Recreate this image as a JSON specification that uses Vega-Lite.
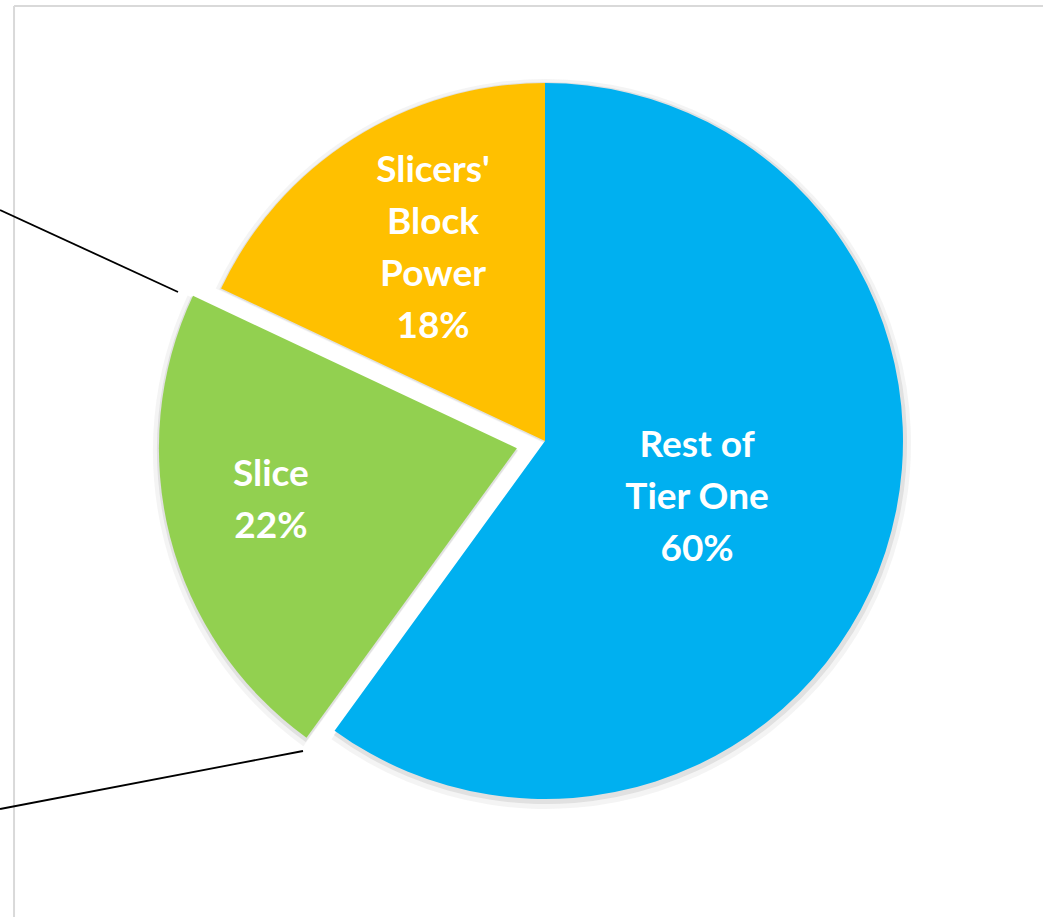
{
  "$schema": "https://vega.github.io/schema/vega-lite/v6.json",
  "autosize": {"type": "none"},
  "padding": {"left": 47, "top": 0, "right": 0, "bottom": 35},
  "width": 996,
  "height": 882,
  "background": "white",
  "config": {"view": {"stroke": null}},
  "datasets": {
    "slices": [
      {"category": "Rest of Tier One", "share": 60, "label": "Rest of\nTier One\n60%", "k": 1},
      {"category": "Slice", "share": 22, "label": "Slice\n22%", "k": 2},
      {"category": "Slicers' Block Power", "share": 18, "label": "Slicers'\nBlock\nPower\n18%", "k": 3}
    ],
    "connectors": [
      {"x": -1.5223, "y": 0.6453, "x2": -1.0251, "y2": 0.4162},
      {"x": -1.5223, "y": -1.0279, "x2": -0.676, "y2": -0.8659}
    ],
    "frame": [
      {"x": -1.4832, "y": 1.2151, "x2": 1.7, "y2": 1.2151},
      {"x": -1.4832, "y": 1.2151, "x2": -1.4832, "y2": -1.6}
    ]
  },
  "layer": [
    {
      "data": {"name": "frame"},
      "mark": {"type": "rule", "stroke": "#d9d9d9", "strokeWidth": 2},
      "encoding": {
        "x": {"field": "x", "type": "quantitative", "scale": {"domain": [-1.3911, 1.3911], "nice": false, "zero": false}, "axis": null},
        "y": {"field": "y", "type": "quantitative", "scale": {"domain": [-1.2318, 1.2318], "nice": false, "zero": false}, "axis": null},
        "x2": {"field": "x2"},
        "y2": {"field": "y2"}
      }
    },
    {
      "data": {"name": "connectors"},
      "mark": {"type": "rule", "stroke": "#000000", "strokeWidth": 1.8},
      "encoding": {
        "x": {"field": "x", "type": "quantitative", "axis": null},
        "y": {"field": "y", "type": "quantitative", "axis": null},
        "x2": {"field": "x2"},
        "y2": {"field": "y2"}
      }
    },
    {
      "data": {"name": "slices"},
      "mark": {"type": "arc", "outerRadius": 365, "fill": "#808080", "xOffset": 1, "yOffset": 3},
      "encoding": {
        "theta": {"field": "share", "type": "quantitative", "stack": true},
        "order": {"field": "k", "type": "quantitative"},
        "opacity": {"condition": {"test": "datum.category === 'Slice'", "value": 0}, "value": 0.09}
      }
    },
    {
      "data": {"name": "slices"},
      "mark": {"type": "arc", "outerRadius": 361, "fill": "#808080", "xOffset": 1, "yOffset": 2},
      "encoding": {
        "theta": {"field": "share", "type": "quantitative", "stack": true},
        "order": {"field": "k", "type": "quantitative"},
        "opacity": {"condition": {"test": "datum.category === 'Slice'", "value": 0}, "value": 0.17}
      }
    },
    {
      "data": {"name": "slices"},
      "mark": {"type": "arc", "outerRadius": 365, "fill": "#808080", "xOffset": -27.1, "yOffset": 10},
      "encoding": {
        "theta": {"field": "share", "type": "quantitative", "stack": true},
        "order": {"field": "k", "type": "quantitative"},
        "opacity": {"condition": {"test": "datum.category === 'Slice'", "value": 0.09}, "value": 0}
      }
    },
    {
      "data": {"name": "slices"},
      "mark": {"type": "arc", "outerRadius": 361, "fill": "#808080", "xOffset": -27.1, "yOffset": 9},
      "encoding": {
        "theta": {"field": "share", "type": "quantitative", "stack": true},
        "order": {"field": "k", "type": "quantitative"},
        "opacity": {"condition": {"test": "datum.category === 'Slice'", "value": 0.17}, "value": 0}
      }
    },
    {
      "data": {"name": "slices"},
      "mark": {"type": "arc", "outerRadius": 358},
      "encoding": {
        "theta": {"field": "share", "type": "quantitative", "stack": true},
        "order": {"field": "k", "type": "quantitative"},
        "color": {
          "field": "category", "type": "nominal", "legend": null,
          "scale": {"domain": ["Rest of Tier One", "Slice", "Slicers' Block Power"], "range": ["#00B0F0", "#92D050", "#FFC000"]}
        },
        "opacity": {"condition": {"test": "datum.category === 'Slice'", "value": 0}, "value": 1}
      }
    },
    {
      "data": {"name": "slices"},
      "mark": {"type": "arc", "outerRadius": 358, "xOffset": -28.1, "yOffset": 7.2},
      "encoding": {
        "theta": {"field": "share", "type": "quantitative", "stack": true},
        "order": {"field": "k", "type": "quantitative"},
        "color": {"field": "category", "type": "nominal", "legend": null},
        "opacity": {"condition": {"test": "datum.category === 'Slice'", "value": 1}, "value": 0}
      }
    },
    {
      "data": {"name": "slices"},
      "mark": {"type": "text", "radius": 162, "dy": -45, "dx": -2, "font": "Lato", "fontWeight": "bold", "fontSize": 37, "lineHeight": 52, "lineBreak": "\n", "fill": "white", "align": "center", "baseline": "middle"},
      "encoding": {
        "theta": {"field": "share", "type": "quantitative", "stack": true},
        "order": {"field": "k", "type": "quantitative"},
        "text": {"field": "label", "type": "nominal"},
        "opacity": {"condition": {"test": "datum.category === 'Rest of Tier One'", "value": 1}, "value": 0}
      }
    },
    {
      "data": {"name": "slices"},
      "mark": {"type": "text", "radius": 222, "dy": -83, "dx": 7, "font": "Lato", "fontWeight": "bold", "fontSize": 37, "lineHeight": 52, "lineBreak": "\n", "fill": "white", "align": "center", "baseline": "middle"},
      "encoding": {
        "theta": {"field": "share", "type": "quantitative", "stack": true},
        "order": {"field": "k", "type": "quantitative"},
        "text": {"field": "label", "type": "nominal"},
        "opacity": {"condition": {"test": "datum.category === \"Slicers' Block Power\"", "value": 1}, "value": 0}
      }
    },
    {
      "data": {"name": "slices"},
      "mark": {"type": "text", "radius": 254, "dy": -36, "xOffset": -28.1, "yOffset": 7.2, "font": "Lato", "fontWeight": "bold", "fontSize": 37, "lineHeight": 52, "lineBreak": "\n", "fill": "white", "align": "center", "baseline": "middle"},
      "encoding": {
        "theta": {"field": "share", "type": "quantitative", "stack": true},
        "order": {"field": "k", "type": "quantitative"},
        "text": {"field": "label", "type": "nominal"},
        "opacity": {"condition": {"test": "datum.category === 'Slice'", "value": 1}, "value": 0}
      }
    }
  ]
}
